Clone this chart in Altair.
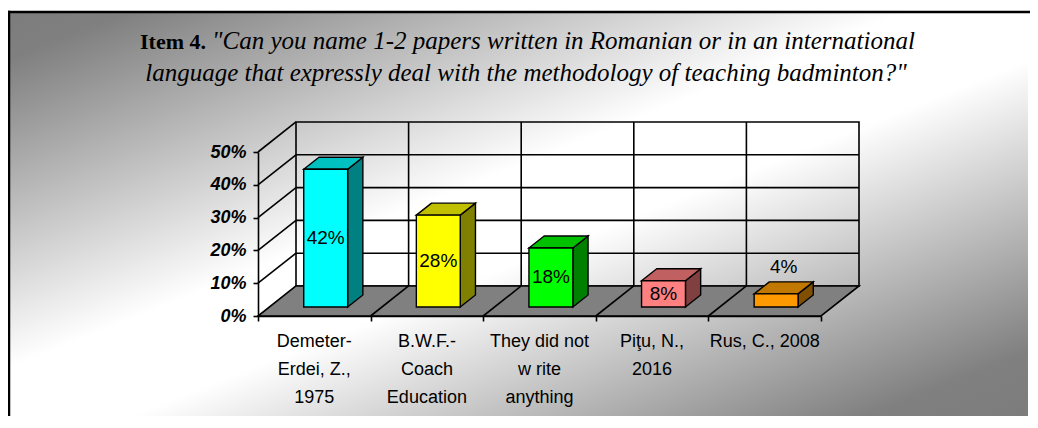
import altair as alt
import pandas as pd

# ---------------- data ----------------
categories = ["Demeter-\nErdei, Z.,\n1975", "B.W.F.-\nCoach\nEducation",
              "They did not\nw rite\nanything", "Piţu, N.,\n2016", "Rus, C., 2008"]
values = [0.42, 0.28, 0.18, 0.08, 0.04]
value_labels = ["42%", "28%", "18%", "8%", "4%"]
front_colors = ["#00FFFF", "#FFFF00", "#00FF00", "#FF8080", "#FF9900"]
side_colors = ["#008080", "#808000", "#008000", "#804040", "#805000"]
top_colors = ["#00C0C0", "#C0C000", "#00C000", "#C06060", "#C07800"]
y_ticks = [0, 0.1, 0.2, 0.3, 0.4, 0.5]
title_bold = "Item 4."
title_line1 = "\"Can you name 1-2 papers written in Romanian or in an international"
title_line2 = "language that expressly deal with the methodology of teaching badminton?\""

# ---------------- 3D projection helpers ----------------
N = len(categories)
YMAX = 0.5
DX = 0.3375   # full wall depth, in category units
DY = 0.0915   # full wall depth, in value units
D0, D1 = 0.3, 0.7  # bar depth range
HW = 0.195         # half bar width

xs = alt.Scale(domain=[0, N], nice=False, zero=False)
ys = alt.Scale(domain=[0, YMAX], nice=False, zero=False)

yaxis = alt.Axis(values=y_ticks, format=".0%", title=None, grid=False, zindex=2,
                 domainColor="black", domainWidth=1.6, tickColor="black", tickWidth=1.6,
                 tickSize=5, labelPadding=7, labelFont="Liberation Sans", labelFontSize=18,
                 labelFontWeight="bold", labelFontStyle="italic", labelColor="black")
xaxis = alt.Axis(values=list(range(N + 1)), labels=False, title=None, grid=False, zindex=2,
                 domainColor="black", domainWidth=1.6, tickColor="black", tickWidth=1.6,
                 tickSize=5)

def X(f):
    return alt.X(f, type="quantitative", scale=xs, axis=xaxis)

def Y(f):
    return alt.Y(f, type="quantitative", scale=ys, axis=yaxis)

# grid / wall segments
segs = []
for k in range(1, 5):
    t = k * 0.1
    segs.append(dict(x=DX, y=DY + t, x2=N + DX, y2=DY + t))      # back wall horizontal
    segs.append(dict(x=0, y=t, x2=DX, y2=DY + t))                 # left wall diagonal
for i in range(1, N):
    segs.append(dict(x=DX + i, y=DY, x2=DX + i, y2=DY + YMAX))    # back wall vertical
segs.append(dict(x=0, y=YMAX, x2=DX, y2=DY + YMAX))               # left wall top edge
segs_df = pd.DataFrame(segs)

floor_diag = pd.DataFrame([dict(x=i, y=0, x2=i + DX, y2=DY) for i in range(1, N)])

floor_df = pd.DataFrame([dict(y=0, x=0, x2=N), dict(y=DY, x=DX, x2=N + DX)])
wall_df = pd.DataFrame([dict(x=DX, x2=N + DX, y=DY, y2=DY + YMAX)])

front_rows, side_rows, top_rows, lab_in, lab_out, cat_rows = [], [], [], [], [], []
dd = D1 - D0
for i, (c, v) in enumerate(zip(categories, values)):
    xl = i + 0.5 - HW + D0 * DX
    xr = i + 0.5 + HW + D0 * DX
    yb = D0 * DY
    yt = v + D0 * DY
    front_rows.append(dict(cat=i, x=xl, x2=xr, y=yb, y2=yt, col=front_colors[i]))
    side_rows += [dict(cat=i, x=xr, y=yb, y2=yt, col=side_colors[i]),
                  dict(cat=i, x=xr + dd * DX, y=yb + dd * DY, y2=yt + dd * DY, col=side_colors[i])]
    top_rows += [dict(cat=i, y=yt, x=xl, x2=xr, col=top_colors[i]),
                 dict(cat=i, y=yt + dd * DY, x=xl + dd * DX, x2=xr + dd * DX, col=top_colors[i])]
    if v >= 0.06:
        lab_in.append(dict(x=(xl + xr) / 2, y=yb + v / 2, t=value_labels[i]))
    else:
        lab_out.append(dict(x=i + 0.5 + 0.5 * (D0 + D1) * DX, y=v + D1 * DY, t=value_labels[i]))
    cat_rows.append(dict(x=i + 0.5, t=c))

front_df = pd.DataFrame(front_rows)
side_df = pd.DataFrame(side_rows)
top_df = pd.DataFrame(top_rows)
lab_in_df = pd.DataFrame(lab_in)
lab_out_df = pd.DataFrame(lab_out)
cat_df = pd.DataFrame(cat_rows)

one = alt.Data(values=[{}])

# ---------------- layers ----------------
bg = alt.Chart(one).mark_rect(
    fill=alt.LinearGradient(
        gradient="linear", x1=0, y1=0, x2=1, y2=1,
        stops=[alt.GradientStop(offset=0, color="#7c7c7c"),
               alt.GradientStop(offset=0.06, color="#808080"),
               alt.GradientStop(offset=0.44, color="#ffffff"),
               alt.GradientStop(offset=0.56, color="#ffffff"),
               alt.GradientStop(offset=0.92, color="#808080"),
               alt.GradientStop(offset=1, color="#7c7c7c")]),
    strokeWidth=0
).encode(x=alt.value(-249), x2=alt.value(770), y=alt.value(-140), y2=alt.value(264))

border_left = alt.Chart(one).mark_rule(color="black", strokeWidth=2.5).encode(
    x=alt.value(-249), y=alt.value(-141.2), y2=alt.value(264))
border_top = alt.Chart(one).mark_rule(color="black", strokeWidth=2.5).encode(
    x=alt.value(-250.2), x2=alt.value(772), y=alt.value(-140))

wall = alt.Chart(wall_df).mark_rect(fill=None, stroke="black", strokeWidth=1.6).encode(
    x=X("x"), x2="x2", y=Y("y"), y2="y2")

grid = alt.Chart(segs_df).mark_rule(color="black", strokeWidth=1.6).encode(
    x=X("x"), x2="x2", y=Y("y"), y2="y2")

floor = alt.Chart(floor_df).mark_area(orient="horizontal", fill="#808080",
                                      stroke="black", strokeWidth=1.6).encode(
    y=Y("y"), x=X("x"), x2="x2")

fdiag = alt.Chart(floor_diag).mark_rule(color="black", strokeWidth=1.6).encode(
    x=X("x"), x2="x2", y=Y("y"), y2="y2")

side = alt.Chart(side_df).mark_area(stroke="black", strokeWidth=1.4).encode(
    x=X("x"), y=Y("y"), y2="y2", detail="cat:N", fill=alt.Fill("col:N", scale=None))

top = alt.Chart(top_df).mark_area(orient="horizontal", stroke="black", strokeWidth=1.4).encode(
    y=Y("y"), x=X("x"), x2="x2", detail="cat:N", fill=alt.Fill("col:N", scale=None))

front = alt.Chart(front_df).mark_rect(stroke="black", strokeWidth=1.4).encode(
    x=X("x"), x2="x2", y=Y("y"), y2="y2", fill=alt.Fill("col:N", scale=None))

lab_inside = alt.Chart(lab_in_df).mark_text(
    font="Liberation Sans", fontSize=19, color="black", baseline="middle", align="center"
).encode(x=X("x"), y=Y("y"), text="t:N")

lab_outside = alt.Chart(lab_out_df).mark_text(
    font="Liberation Sans", fontSize=19, color="black", baseline="bottom", align="center", dy=-5
).encode(x=X("x"), y=Y("y"), text="t:N")

cat_labels = alt.Chart(cat_df).mark_text(
    font="Liberation Sans", fontSize=18, color="black", baseline="top", align="center",
    lineBreak="\n", lineHeight=28
).encode(x=X("x"), y=alt.value(181), text="t:N")

t_bold = alt.Chart(one).mark_text(
    font="Liberation Serif", fontSize=22, fontWeight="bold", color="black",
    align="left", baseline="alphabetic", text=title_bold
).encode(x=alt.value(-118), y=alt.value(-103))

t_line1 = alt.Chart(one).mark_text(
    font="Liberation Serif", fontSize=25, fontStyle="italic", color="black",
    align="left", baseline="alphabetic", text=title_line1
).encode(x=alt.value(-46), y=alt.value(-103))

t_line2 = alt.Chart(one).mark_text(
    font="Liberation Serif", fontSize=25, fontStyle="italic", color="black",
    align="center", baseline="alphabetic", text=title_line2
).encode(x=alt.value(268), y=alt.value(-71))

chart = alt.layer(
    bg, border_left, border_top, wall, grid, floor, fdiag, side, top, front,
    lab_inside, lab_outside, cat_labels, t_bold, t_line1, t_line2
).properties(
    width=563, height=164,
    padding={"left": 250, "top": 144, "right": 209, "bottom": 100},
    autosize=alt.AutoSizeParams(type="none"),
    background="white",
).configure_view(stroke=None)

chart.save("out.html", embed_options={"renderer": "svg", "actions": False})
